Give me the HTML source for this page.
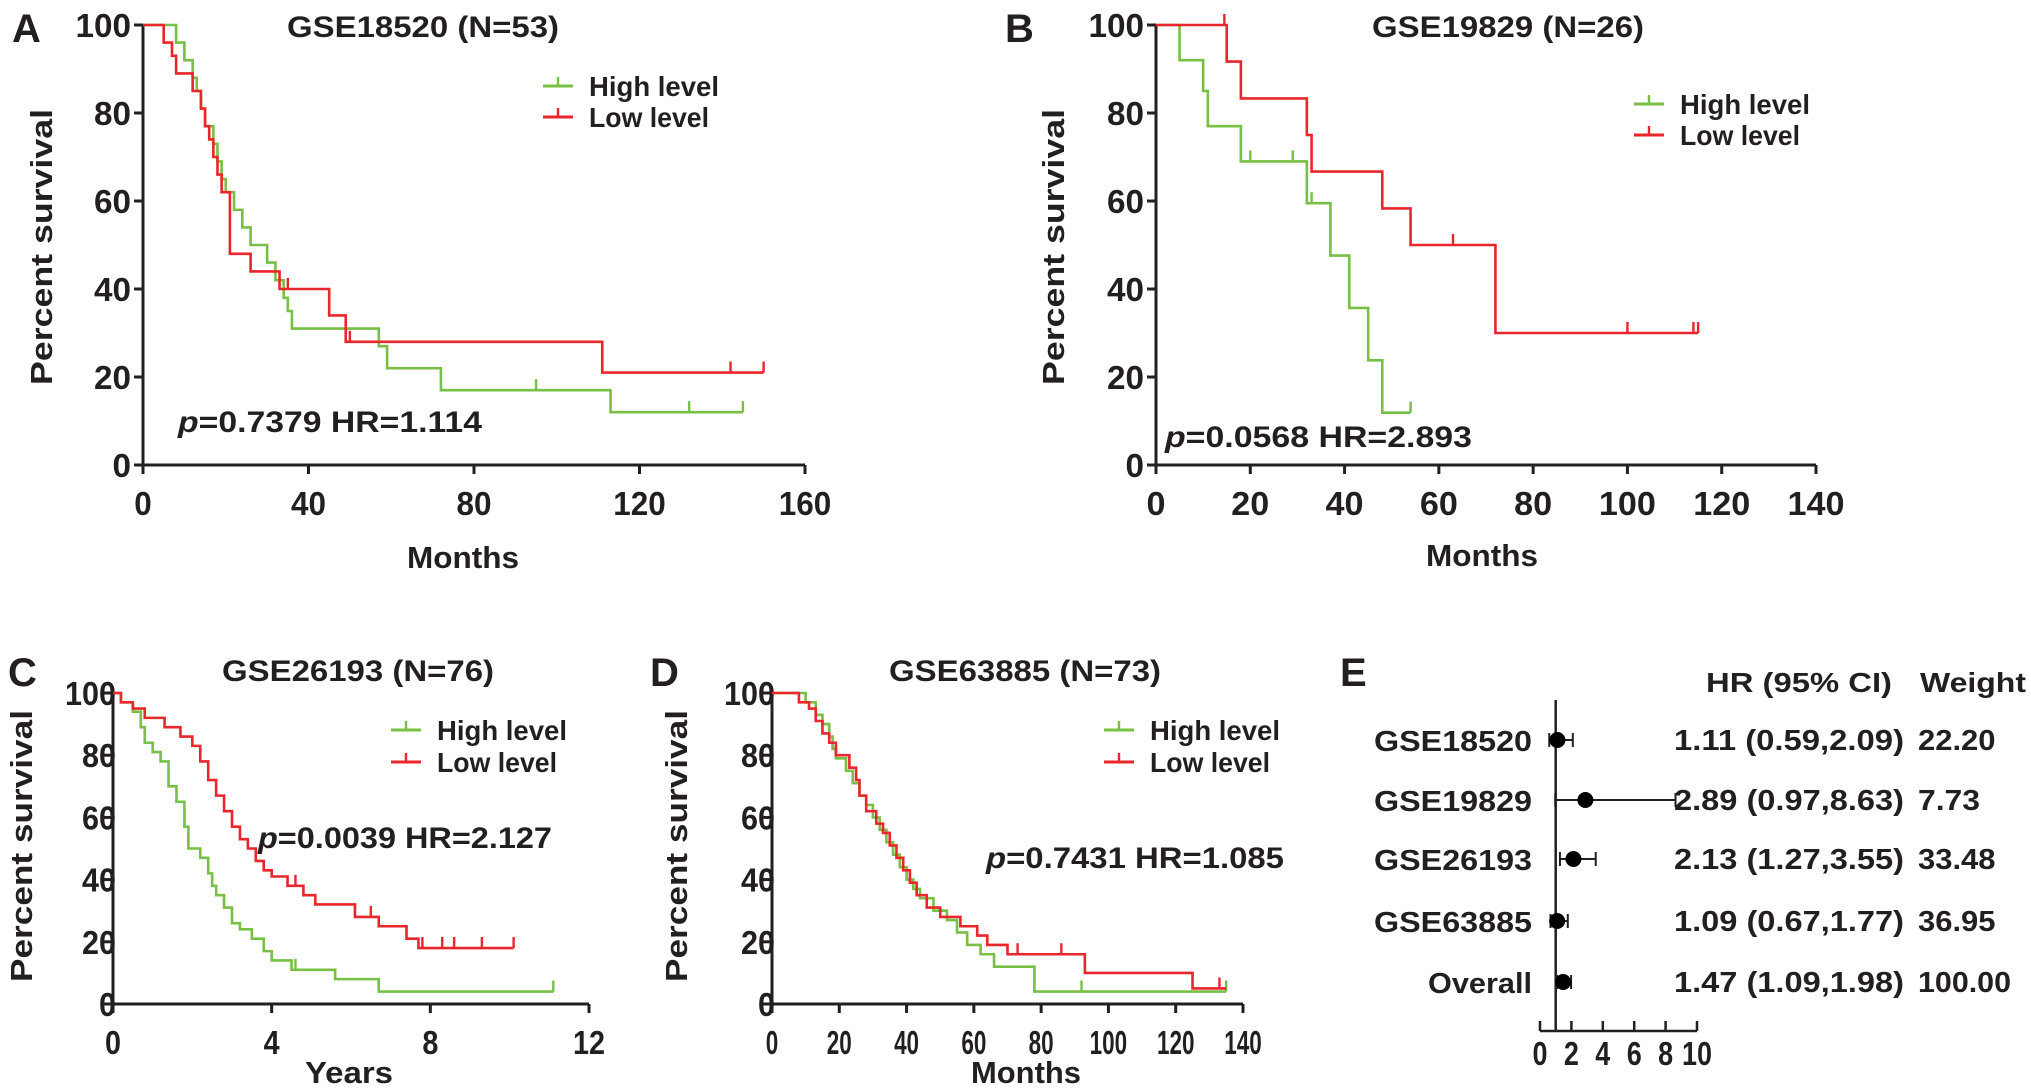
<!DOCTYPE html>
<html><head><meta charset="utf-8">
<style>
html,body{margin:0;padding:0;background:#fff;}
svg{display:block;font-family:"Liberation Sans",Arial,sans-serif;font-weight:bold;}
</style></head>
<body>
<svg id="fig" width="2031" height="1091" viewBox="0 0 2031 1091" xmlns="http://www.w3.org/2000/svg"></svg>
<script>
// ---------- Panel A data (months) ----------
const aHighT=[8,10,12,13,14,15,17,18,19,20,22,24,26,30,32,34,35,36,57,59,72,113];
const aHighS=[96,92,88,85,81,77,73,69,65,62,58,54,50,46,42,38,35,31,27,22,17,12];
const aHighC=[95,132,145];
const aHighEnd=145;
const aLowT=[5,7,8,12,14,15,16,17,18,19,21,26,33,45,49,111];
const aLowS=[96,93,89,85,81,77,74,70,66,62,48,44,40,34,28,21];
const aLowC=[35,50,142,150];
const aLowEnd=150;
// ---------- Panel B data (months) ----------
const bHighT=[5,10,11,18,32,37,41,45,48];
const bHighS=[92,85,77,69,59.5,47.6,35.7,23.8,11.9];
const bHighC=[20,29,33,54];
const bHighEnd=54;
const bLowT=[15,18,32,33,48,54,72];
const bLowS=[91.7,83.3,75,66.7,58.3,50,30];
const bLowC=[14.5,63,100,114,115];
const bLowEnd=115;
// ---------- Panel C data (years) ----------
const cHighT=[0.2,0.5,0.7,0.8,1.0,1.2,1.4,1.6,1.8,1.9,2.2,2.4,2.5,2.6,2.8,3.0,3.2,3.5,3.8,4.0,4.5,5.6,6.7];
const cHighS=[97,94,89,84,81,78,70,65,57,50,47,42,38,35,31,26,24,21,17,14,11,8,4];
const cHighC=[4.6,11.1];
const cHighEnd=11.1;
const cLowT=[0.2,0.5,0.8,1.3,1.7,2.0,2.2,2.4,2.6,2.8,3.0,3.2,3.4,3.6,3.8,4.0,4.4,4.8,5.1,6.1,6.7,7.4,7.7];
const cLowS=[97,95,92,89,86,83,78,72,67,62,57,53,50,46,43,41,38,35,32,28,25,21,18];
const cLowC=[4.6,6.5,7.8,8.3,8.6,9.3,10.1];
const cLowEnd=10.1;
// ---------- Panel D data (months) ----------
const dHighT=[10,13,15,17,18,19,22,24,26,28,30,32,34,36,38,40,42,44,48,52,55,58,62,66,78];
const dHighS=[97,93,90,86,82,79,75,71,67,64,60,56,52,48,44,40,37,34,30,27,23,19,16,12,4];
const dHighC=[92,135];
const dHighEnd=135;
const dLowT=[8,11,13,15,17,19,23,25,26,28,31,33,35,37,39,41,43,46,50,56,61,64,70,93,125];
const dLowS=[97,95,91,87,84,80,76,72,67,62,58,55,51,47,43,39,35,31,28,25,22,19,16,10,5];
const dLowC=[73,86,133];
const dLowEnd=135;
// ---------- Panel E data ----------
const forestNames=["GSE18520","GSE19829","GSE26193","GSE63885","Overall"];
const forestHR=[1.11,2.89,2.13,1.09,1.47];
const forestLo=[0.59,0.97,1.27,0.67,1.09];
const forestHi=[2.09,8.63,3.55,1.77,1.98];
const forestLabels=["1.11 (0.59,2.09)","2.89 (0.97,8.63)","2.13 (1.27,3.55)","1.09 (0.67,1.77)","1.47 (1.09,1.98)"];
const forestWeights=["22.20","7.73","33.48","36.95","100.00"];
const forestTicks=[0,2,4,6,8,10];
const yTicks=[0,20,40,60,80,100];
const aXTicks=[0,40,80,120,160];
const bXTicks=[0,20,40,60,80,100,120,140];
const cXTicks=[0,4,8,12];
const dXTicks=[0,20,40,60,80,100,120,140];

const NS="http://www.w3.org/2000/svg";
const svg=document.getElementById('fig');
const GREEN="#77c043", RED="#e8262c", INK="#231f20";
function mk(tag,attrs,parent){const e=document.createElementNS(NS,tag);for(const k in attrs)e.setAttribute(k,attrs[k]);(parent||svg).appendChild(e);return e;}
function txt(parent,x,y,s,fs,anchor,w){const t=mk('text',{x:x,y:y,'font-size':fs,'text-anchor':anchor||'start',fill:INK},parent);if(w){t.setAttribute('textLength',w);t.setAttribute('lengthAdjust','spacingAndGlyphs');}t.textContent=s;return t;}

function panel(cfg){
  const g=mk('g',{});
  
  
  const sx=t=>cfg.x0+t/cfg.xmax*(cfg.x1-cfg.x0);
  const sy=s=>cfg.yb-s/100*(cfg.yb-cfg.yt);
  const L=txt(g,cfg.lx,cfg.ly,cfg.letter,40,'start');
  
  const T=txt(g,cfg.tx,cfg.ty,cfg.title,30,'middle',cfg.tw);
  
  const ax=mk('g',{stroke:INK,'stroke-width':3,fill:'none'},g);
  
  mk('line',{x1:cfg.x0,y1:cfg.yt-1,x2:cfg.x0,y2:cfg.yb},ax);
  mk('line',{x1:cfg.x0,y1:cfg.yb,x2:cfg.x1,y2:cfg.yb},ax);
  yTicks.forEach(v=>{mk('line',{x1:cfg.x0-9,y1:sy(v),x2:cfg.x0,y2:sy(v)},ax);
    const t=txt(g,cfg.x0-cfg.ylg,sy(v)+12,String(v),33,'end',String(v).length*cfg.ytw);
    });
  cfg.xticks.forEach(v=>{mk('line',{x1:sx(v),y1:cfg.yb,x2:sx(v),y2:cfg.yb+9},ax);
    const t=txt(g,sx(v),cfg.yb+50,String(v),33,'middle',String(v).length*cfg.xtw);
    });
  const xl=txt(g,cfg.xlx,cfg.xly,cfg.xlabel,31,'middle',cfg.xlw);
  
  const yl=txt(g,0,0,'Percent survival',31,'middle',cfg.ylw);
  yl.setAttribute('transform','translate('+(cfg.ylx)+','+cfg.yly+') rotate(-90)');
  
  function curve(T,S,C,end,col,nm){
    let d='M'+sx(0)+','+sy(100);
    const surv=t=>{let s=100;for(let i=0;i<T.length;i++){if(T[i]<=t)s=S[i];}return s;};
    for(let i=0;i<T.length;i++){d+=' H'+sx(T[i])+' V'+sy(S[i]);}
    d+=' H'+sx(end);
    const p=mk('path',{d:d,stroke:col,'stroke-width':2.6,fill:'none'},g);
    
    C.forEach(c=>{const y=sy(surv(c));const m=mk('line',{x1:sx(c),y1:y,x2:sx(c),y2:y-11,stroke:col,'stroke-width':2.4},g);
      });
  }
  curve(cfg.hT,cfg.hS,cfg.hC,cfg.hE,GREEN,'high-level');
  curve(cfg.lT,cfg.lS,cfg.lC,cfg.lE,RED,'low-level');
  [[GREEN,'High level',cfg.lg1],[RED,'Low level',cfg.lg2]].forEach((e,i)=>{
    const lg=mk('g',{},g);
    
    mk('line',{x1:cfg.lgx,y1:e[2],x2:cfg.lgx+30,y2:e[2],stroke:e[0],'stroke-width':3},lg);
    mk('line',{x1:cfg.lgx+15,y1:e[2],x2:cfg.lgx+15,y2:e[2]-9,stroke:e[0],'stroke-width':2.4},lg);
    txt(lg,cfg.lgx+46,e[2]+10,e[1],28,'start',i==0?cfg.lgw1:cfg.lgw2);
  });
  const st=mk('text',{x:cfg.px,y:cfg.py,'font-size':30,fill:INK,textLength:cfg.pw,lengthAdjust:'spacingAndGlyphs'},g);
  
  const ts=mk('tspan',{'font-style':'italic'},st);ts.textContent='p';
  const ts2=mk('tspan',{},st);ts2.textContent=cfg.ptxt;
}

panel({name:'panel-a-gse18520',letter:'A',lx:12,ly:42,title:'GSE18520 (N=53)',tx:423,ty:37,tw:272,
  x0:143,x1:805,yt:25,yb:465,xmax:160,xticks:aXTicks,xtw:17.5,ytw:18.5,ylg:12,
  xlabel:'Months',xlx:463,xly:568,xlw:112,ylx:52,yly:247,ylw:276,
  hT:aHighT,hS:aHighS,hC:aHighC,hE:aHighEnd,lT:aLowT,lS:aLowS,lC:aLowC,lE:aLowEnd,
  lgx:543,lg1:86,lg2:117,lgw1:130,lgw2:120,px:178,py:432,pw:304,ptxt:'=0.7379  HR=1.114'});
panel({name:'panel-b-gse19829',letter:'B',lx:1005,ly:42,title:'GSE19829 (N=26)',tx:1508,ty:37,tw:272,
  x0:1156,x1:1816,yt:25,yb:465,xmax:140,xticks:bXTicks,xtw:19,ytw:18.5,ylg:12,
  xlabel:'Months',xlx:1482,xly:566,xlw:112,ylx:1064,yly:247,ylw:276,
  hT:bHighT,hS:bHighS,hC:bHighC,hE:bHighEnd,lT:bLowT,lS:bLowS,lC:bLowC,lE:bLowEnd,
  lgx:1634,lg1:104,lg2:135,lgw1:130,lgw2:120,px:1165,py:447,pw:307,ptxt:'=0.0568  HR=2.893'});
panel({name:'panel-c-gse26193',letter:'C',lx:8,ly:686,title:'GSE26193 (N=76)',tx:358,ty:681,tw:272,
  x0:113,x1:589,yt:693,yb:1004,xmax:12,xticks:cXTicks,xtw:16,ytw:17,ylg:-3,
  xlabel:'Years',xlx:349,xly:1083,xlw:88,ylx:32,yly:846,ylw:272,
  hT:cHighT,hS:cHighS,hC:cHighC,hE:cHighEnd,lT:cLowT,lS:cLowS,lC:cLowC,lE:cLowEnd,
  lgx:391,lg1:730,lg2:762,lgw1:130,lgw2:120,px:258,py:848,pw:294,ptxt:'=0.0039 HR=2.127'});
panel({name:'panel-d-gse63885',letter:'D',lx:650,ly:686,title:'GSE63885 (N=73)',tx:1025,ty:681,tw:272,
  x0:772,x1:1243,yt:693,yb:1004,xmax:140,xticks:dXTicks,xtw:12.5,ytw:17,ylg:-3,
  xlabel:'Months',xlx:1026,xly:1083,xlw:110,ylx:687,yly:846,ylw:272,
  hT:dHighT,hS:dHighS,hC:dHighC,hE:dHighEnd,lT:dLowT,lS:dLowS,lC:dLowC,lE:dLowEnd,
  lgx:1104,lg1:730,lg2:762,lgw1:130,lgw2:120,px:986,py:868,pw:298,ptxt:'=0.7431 HR=1.085'});

(function(){
  const g=mk('g',{});
  
  const fx0=1540,fx1=1697,axY=1031,topY=700;
  const fx=v=>fx0+v/10*(fx1-fx0);
  const rowY=[740,800,859,921,982];
  const L=txt(g,1340,686,'E',40,'start');
  const h1=txt(g,1706,692,'HR (95% CI)',28,'start',186);
  const h2=txt(g,1920,692,'Weight',28,'start',106);
  const ax=mk('g',{stroke:INK,'stroke-width':2.5,fill:'none'},g);
  
  mk('line',{x1:fx(1),y1:topY,x2:fx(1),y2:axY},ax);
  mk('line',{x1:fx0,y1:axY,x2:fx1,y2:axY},ax);
  forestTicks.forEach(v=>{mk('line',{x1:fx(v),y1:axY,x2:fx(v),y2:axY-10},ax);
    const t=txt(g,fx(v),axY+34,String(v),33,'middle',String(v).length*15);
    });
  forestNames.forEach((n,i)=>{
    const y=rowY[i];
    const r=mk('g',{},g);
    
    txt(r,1532,y+11,n,29,'end',n==='Overall'?104:158);
    mk('line',{x1:fx(forestLo[i]),y1:y,x2:fx(forestHi[i]),y2:y,stroke:INK,'stroke-width':2},r);
    mk('line',{x1:fx(forestLo[i]),y1:y-7,x2:fx(forestLo[i]),y2:y+7,stroke:INK,'stroke-width':2},r);
    mk('line',{x1:fx(forestHi[i]),y1:y-7,x2:fx(forestHi[i]),y2:y+7,stroke:INK,'stroke-width':2},r);
    mk('circle',{cx:fx(forestHR[i]),cy:y,r:8,fill:'#000'},r);
    txt(r,1674,y+10,forestLabels[i],29,'start',230);
    txt(r,1918,y+10,forestWeights[i],29,'start',forestWeights[i].length*15.5);
  });
})();
</script>
</body></html>
